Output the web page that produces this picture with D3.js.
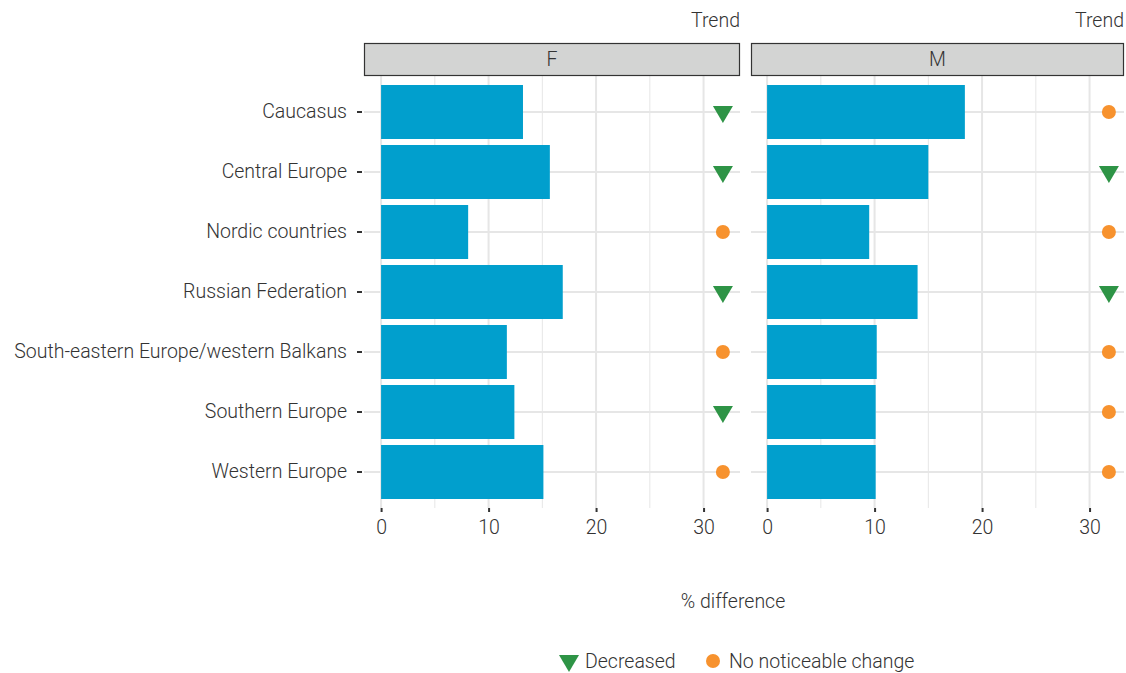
<!DOCTYPE html>
<html>
<head>
<meta charset="utf-8">
<script src="https://cdn.jsdelivr.net/npm/d3@7"></script>
<style>
  body { margin: 0; background: #fff; }
  text { font-family: Roboto, "DejaVu Sans", sans-serif; fill: #333; }
</style>
</head>
<body>
<div id="chart"></div>
<script>
const regions = ["Caucasus", "Central Europe", "Nordic countries", "Russian Federation",
  "South-eastern Europe/western Balkans", "Southern Europe", "Western Europe"]
const panels = ["F", "M"]
const valuesF = [13.2, 15.7, 8.1, 16.9, 11.7, 12.4, 15.1]
const valuesM = [18.4, 15.0, 9.5, 14.0, 10.2, 10.1, 10.1]
const trendF = ["Decreased", "Decreased", "No noticeable change", "Decreased", "No noticeable change", "Decreased", "No noticeable change"]
const trendM = ["No noticeable change", "Decreased", "No noticeable change", "Decreased", "No noticeable change", "No noticeable change", "No noticeable change"]
const trendPos = 31.8
const xTicks = [0, 10, 20, 30]
const minorTicks = [5, 15, 25]
const trendLevels = ["Decreased", "No noticeable change"]

const width = 1126, height = 673
const panelTop = 76, panelBottom = 508
const panelX = {F: [364, 740], M: [750, 1126]}
const stripX = {F: [364, 740], M: [751, 1124]}
const colors = {bar: "#019fcd", Decreased: "#2e9446", "No noticeable change": "#f7922e", grid: "#e6e6e6"}
const fontSize = "19.5px"

const svg = d3.select("#chart").append("svg")
    .attr("width", width)
    .attr("height", height)

// 7 rows, step 60, bars 90% of the step
const y = d3.scaleBand()
    .domain(regions)
    .range([panelTop, panelBottom])
    .paddingInner(0.1)
    .paddingOuter(0.15)

const dataBy = {F: {vals: valuesF, trend: trendF}, M: {vals: valuesM, trend: trendM}}

function drawSymbol(g, kind, cx, cy) {
  if (kind === "Decreased") {
    g.append("path")
      .attr("d", `M${cx - 10},${cy - 6} L${cx + 10},${cy - 6} L${cx},${cy + 11} Z`)
      .attr("fill", colors.Decreased)
  } else {
    g.append("circle")
      .attr("cx", cx).attr("cy", cy).attr("r", 7)
      .attr("fill", colors["No noticeable change"])
  }
}

panels.forEach(function(p) {
  const [x0, x1] = panelX[p]
  const [s0, s1] = stripX[p]
  const x = d3.scaleLinear()
      .domain([-trendPos * 0.05, trendPos * 1.05])
      .range([x0, x1])
  const g = svg.append("g")

  // grid
  g.selectAll(".minor").data(minorTicks).enter().append("line")
    .attr("x1", d => x(d)).attr("x2", d => x(d))
    .attr("y1", panelTop).attr("y2", panelBottom)
    .attr("stroke", colors.grid).attr("stroke-width", 1)
  g.selectAll(".major").data(xTicks).enter().append("line")
    .attr("x1", d => x(d)).attr("x2", d => x(d))
    .attr("y1", panelTop).attr("y2", panelBottom)
    .attr("stroke", colors.grid).attr("stroke-width", 2)
  g.selectAll(".hgrid").data(regions).enter().append("line")
    .attr("x1", s0).attr("x2", s1)
    .attr("y1", d => y(d) + y.bandwidth() / 2).attr("y2", d => y(d) + y.bandwidth() / 2)
    .attr("stroke", colors.grid).attr("stroke-width", 2)

  // bars
  const vals = dataBy[p].vals
  g.selectAll(".bar").data(regions).enter().append("rect")
    .attr("x", x(0))
    .attr("y", d => y(d))
    .attr("width", (d, i) => x(vals[i]) - x(0))
    .attr("height", y.bandwidth())
    .attr("fill", colors.bar)

  // trend symbols
  regions.forEach(function(r, i) {
    drawSymbol(g, dataBy[p].trend[i], x(trendPos), y(r) + y.bandwidth() / 2)
  })

  // strip
  g.append("rect")
    .attr("x", s0 + 0.5).attr("y", 43.5)
    .attr("width", s1 - s0 - 1).attr("height", 32)
    .attr("fill", "#d3d4d3").attr("stroke", "#333").attr("stroke-width", 1.2)
  g.append("text")
    .attr("x", (s0 + s1) / 2).attr("y", 66)
    .attr("text-anchor", "middle")
    .style("font-size", fontSize).style("font-weight", 300)
    .text(p)
  g.append("text")
    .attr("x", s1).attr("y", 27)
    .attr("text-anchor", "end")
    .style("font-size", fontSize).style("font-weight", 300)
    .text("Trend")

  // x axis
  const ax = g.append("g")
    .attr("transform", `translate(0,${panelBottom})`)
    .call(d3.axisBottom(x).tickValues(xTicks).tickSize(4).tickPadding(8))
  ax.select(".domain").remove()
  ax.selectAll(".tick line").attr("stroke", "#333").attr("stroke-width", 2)
  ax.selectAll(".tick text")
    .style("font-size", fontSize).style("font-weight", 300)
    .style("font-family", "Roboto, sans-serif").attr("fill", "#333")
})

// y axis
const ay = svg.append("g")
    .attr("transform", `translate(${panelX.F[0] - 2},0)`)
    .call(d3.axisLeft(y).tickSize(5).tickPadding(10))
ay.select(".domain").remove()
ay.selectAll(".tick line").attr("stroke", "#333").attr("stroke-width", 2)
ay.selectAll(".tick text")
  .style("font-size", fontSize).style("font-weight", 300)
  .style("font-family", "Roboto, sans-serif").attr("fill", "#333")

// axis title
svg.append("text")
  .attr("x", 733).attr("y", 608)
  .attr("text-anchor", "middle")
  .style("font-size", fontSize).style("font-weight", 300)
  .text("% difference")

// legend
const leg = svg.append("g")
trendLevels.forEach(function(t, i) {
  const cx = i === 0 ? 569 : 713
  drawSymbol(leg, t, cx, 661)
  leg.append("text")
    .attr("x", cx + 16).attr("y", 668)
    .style("font-size", fontSize).style("font-weight", 300)
    .text(t)
})
</script>
</body>
</html>
